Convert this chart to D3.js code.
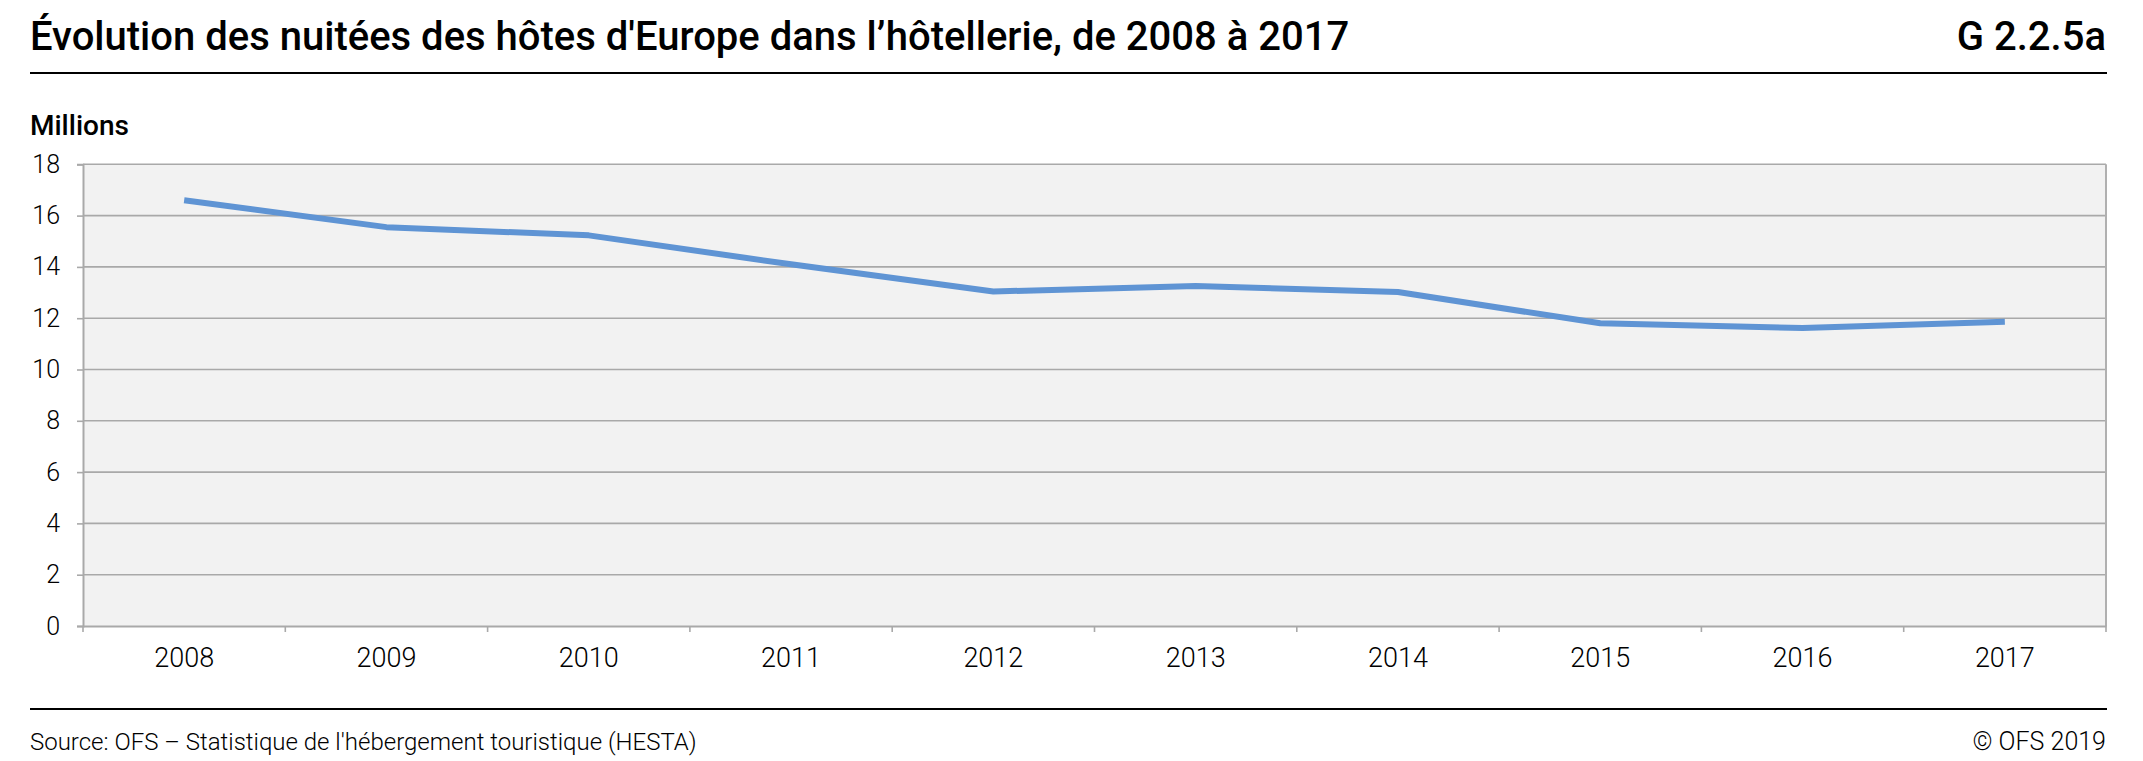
<!DOCTYPE html>
<html><head><meta charset="utf-8">
<script src="https://cdn.jsdelivr.net/npm/d3@7"></script>
<style>
html,body{margin:0;padding:0;background:#fff;}
svg{display:block;font-family:Roboto, "Noto Sans", sans-serif;}
</style></head>
<body>
<script>
const years = ["2008","2009","2010","2011","2012","2013","2014","2015","2016","2017"];
const nights = [16.6, 15.55, 15.23, 14.1, 13.04, 13.26, 13.02, 11.8, 11.62, 11.86];
const yTicks = [0,2,4,6,8,10,12,14,16,18];
const titleText = "Évolution des nuitées des hôtes d'Europe dans l’hôtellerie, de 2008 à 2017";
const codeText = "G 2.2.5a";
const unitText = "Millions";
const sourceText = "Source: OFS – Statistique de l'hébergement touristique (HESTA)";
const copyText = "© OFS 2019";

const W = 2143, H = 761;
const L = 83, R = 2106, T = 164.3, B = 626;

const svg = d3.select("body").append("svg").attr("width", W).attr("height", H);

const x = d3.scaleBand().domain(years).range([L, R]).padding(0);
const y = d3.scaleLinear().domain([0, 18]).range([B, T]);

// title
svg.append("text").attr("x", 30).attr("y", 50).attr("font-size", 40).attr("font-weight", 500)
  .attr("fill", "#000").text(titleText);
svg.append("text").attr("x", 2106).attr("y", 50).attr("font-size", 40).attr("font-weight", 500)
  .attr("text-anchor", "end").attr("fill", "#000").text(codeText);
svg.append("line").attr("x1", 30).attr("x2", 2107).attr("y1", 73).attr("y2", 73)
  .attr("stroke", "#000").attr("stroke-width", 2);

svg.append("text").attr("x", 30).attr("y", 135).attr("font-size", 28).attr("font-weight", 500)
  .attr("fill", "#000").text(unitText);

// plot background
svg.append("rect").attr("x", L).attr("y", T).attr("width", R - L).attr("height", B - T).attr("fill", "#f2f2f2");

// gridlines
svg.append("g").selectAll("line").data(yTicks.filter(d => d > 0)).join("line")
  .attr("x1", L).attr("x2", R).attr("y1", d => y(d)).attr("y2", d => y(d))
  .attr("stroke", "#a9a9a9").attr("stroke-width", 1.6);
// right border
svg.append("line").attr("x1", R).attr("x2", R).attr("y1", T).attr("y2", B)
  .attr("stroke", "#b0b0b0").attr("stroke-width", 2);

// y axis
const yAxis = svg.append("g").attr("transform", `translate(${L},0)`)
  .call(d3.axisLeft(y).tickValues(yTicks).tickSize(6).tickPadding(17).tickFormat(d3.format("d")));
yAxis.select(".domain").attr("stroke", "#a9a9a9").attr("stroke-width", 2);
yAxis.selectAll(".tick line").attr("stroke", "#a9a9a9").attr("stroke-width", 1.6);
yAxis.selectAll(".tick text").attr("font-size", 25).attr("font-weight", 300).attr("fill", "#000")
  .attr("font-family", "Roboto");

// x axis
const xAxis = svg.append("g").attr("transform", `translate(0,${B})`)
  .call(d3.axisBottom(x).tickSize(0).tickPadding(22));
xAxis.select(".domain").attr("stroke", "#a9a9a9").attr("stroke-width", 2);
xAxis.selectAll(".tick text").attr("font-size", 27).attr("font-weight", 300).attr("fill", "#000")
  .attr("font-family", "Roboto");
const bounds = years.map(d => x(d)).concat([R]);
xAxis.append("g").selectAll("line").data(bounds).join("line")
  .attr("x1", d => d).attr("x2", d => d).attr("y1", 0).attr("y2", 6)
  .attr("stroke", "#a9a9a9").attr("stroke-width", 1.6);

// line
const line = d3.line().x((d, i) => x(years[i]) + x.bandwidth() / 2).y(d => y(d));
svg.append("path").datum(nights).attr("d", line).attr("fill", "none")
  .attr("stroke", "#5f94d4").attr("stroke-width", 6).attr("stroke-linejoin", "round");

// footer
svg.append("line").attr("x1", 30).attr("x2", 2107).attr("y1", 709).attr("y2", 709)
  .attr("stroke", "#000").attr("stroke-width", 2);
svg.append("text").attr("x", 30).attr("y", 750).attr("font-size", 24).attr("font-weight", 300)
  .attr("fill", "#000").text(sourceText);
svg.append("text").attr("x", 2106).attr("y", 750).attr("font-size", 25).attr("font-weight", 300)
  .attr("text-anchor", "end").attr("fill", "#000").text(copyText);
</script>
</body></html>
